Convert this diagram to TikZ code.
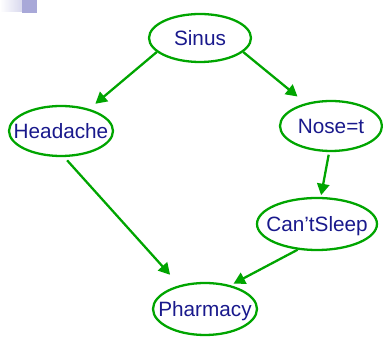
\documentclass[tikz,border=0pt]{standalone}
\usepackage{fontspec}
\setmainfont{Liberation Sans}
\usetikzlibrary{shapes.geometric,arrows.meta}
\definecolor{netgreen}{RGB}{0,165,0}
\definecolor{netblue}{RGB}{25,25,140}
\definecolor{barlilac}{RGB}{168,168,216}

\begin{document}
\begin{tikzpicture}[
    x=0.02cm, y=-0.02cm,
    chance/.style={
        % The ellipse keeps the size given by minimum width/height,
        % the label is put in a zero width box so it does not widen it.
        ellipse, draw=netgreen, line width=1.3pt, inner sep=0pt,
        text height=8.4pt, text depth=0pt,
        text=netblue, font=\fontsize{11.8}{14}\selectfont},
    influence/.style={
        draw=netgreen, line width=1.3pt,
        -{Triangle[length=6.5pt,width=7pt]}},
    ]

    % Frame
    \useasboundingbox (0,0) rectangle (383,337);

    % Corner mark
    \shade[left color=white,right color=barlilac!45] (0,0) rectangle (22,12);
    \fill[barlilac] (22,0) rectangle (37,13);

    % Variables
    \node[chance,minimum width=2.04cm,minimum height=0.96cm] (sinus) at (200,38) {\makebox[0pt]{Sinus}};
    \node[chance,minimum width=2.08cm,minimum height=1.0cm] (headache) at (61,131) {\makebox[0pt]{Headache}};
    \node[chance,minimum width=2.04cm,minimum height=1.0cm] (nose) at (331,126) {\makebox[0pt]{Nose=t}};
    \node[chance,minimum width=2.4cm,minimum height=1.04cm] (cantsleep) at (317,224) {\makebox[0pt]{Can’tSleep}};
    \node[chance,minimum width=2.08cm,minimum height=1.04cm] (pharmacy) at (205,309) {\makebox[0pt]{Pharmacy}};

    % Influences
    \draw[influence,shorten >=4.5pt] (sinus.198) -- (headache.38);
    \draw[influence,shorten >=6pt] (sinus.342) -- (nose.138);
    \draw[influence,shorten <=2.5pt,shorten >=8pt] (headache.277) -- (pharmacy.137);
    \draw[influence,shorten <=1.5pt,shorten >=1pt] (nose.266) -- (cantsleep.82);
    \draw[influence,shorten >=2pt] (cantsleep.233) -- (pharmacy.43);
\end{tikzpicture}
\end{document}
